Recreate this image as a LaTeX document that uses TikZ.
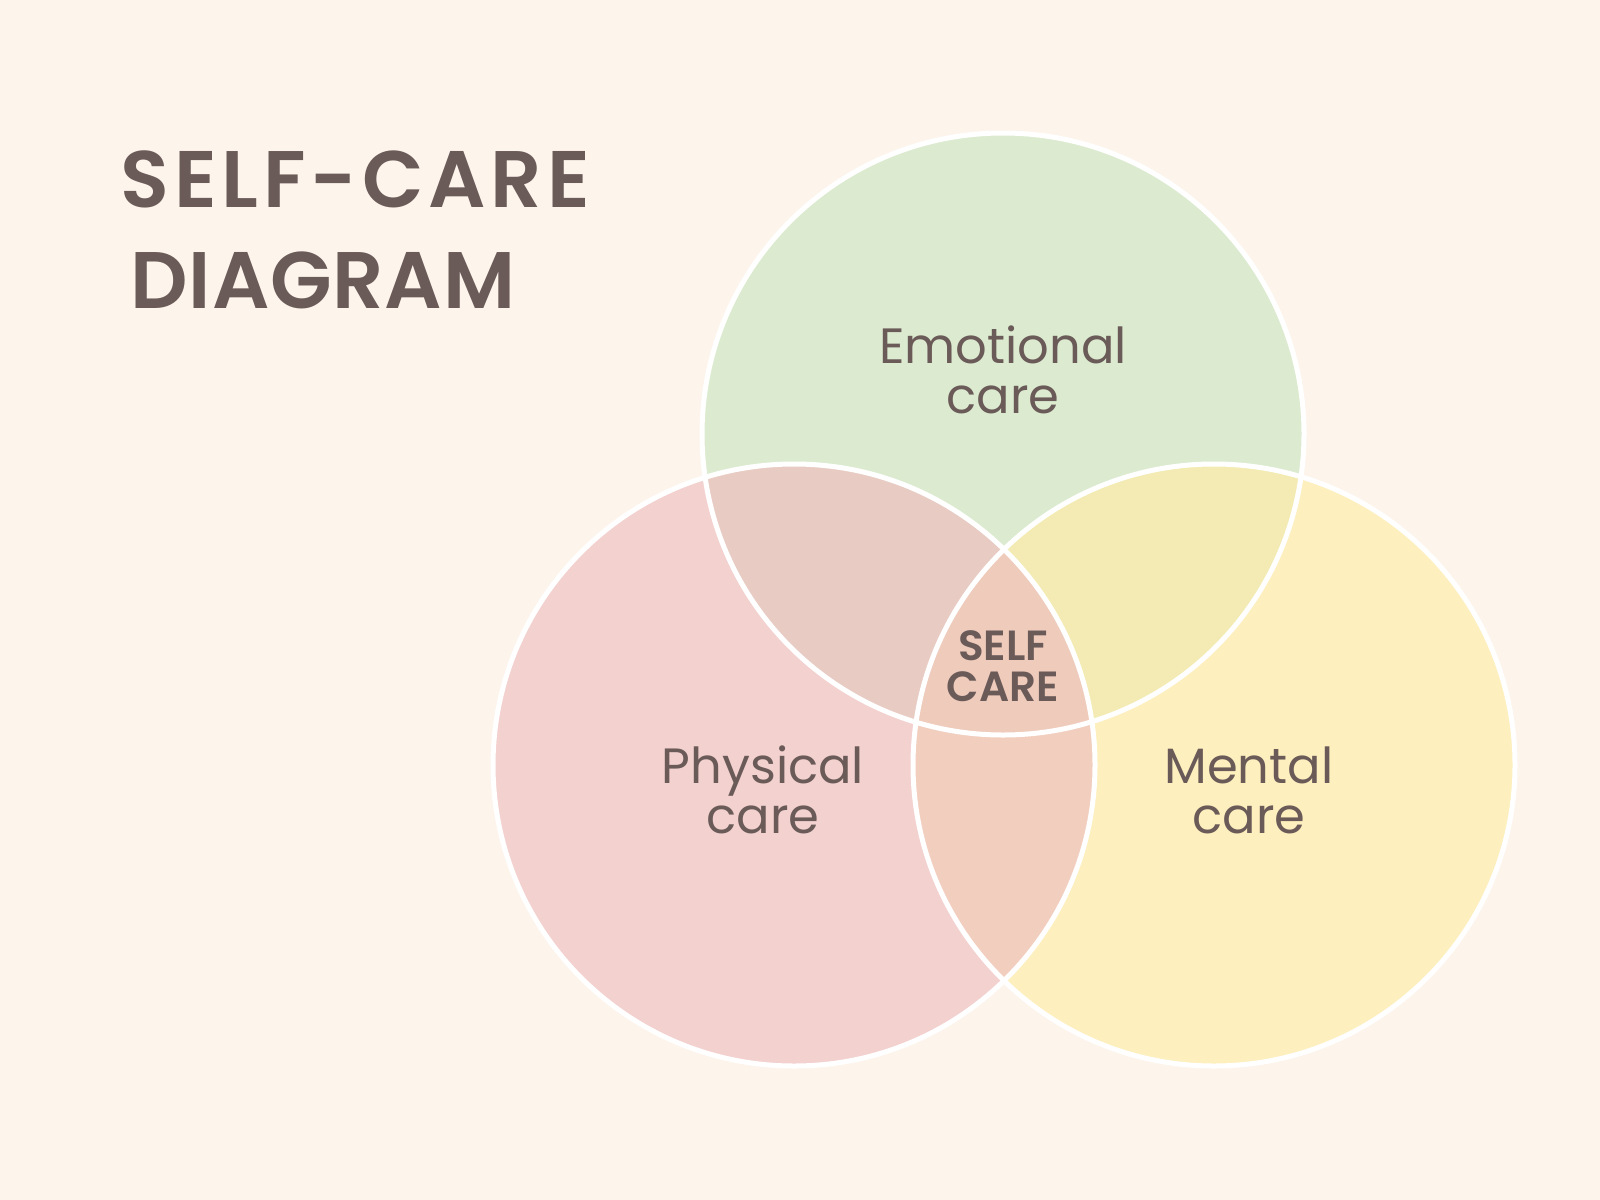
\documentclass[tikz,border=0pt]{standalone}
\usepackage{fontspec}
\setmainfont{Poppins}[BoldFont={Poppins SemiBold}]
\newfontfamily\titlefont{Poppins SemiBold}[LetterSpace=6]
\newfontfamily\titlefontb{Poppins SemiBold}[LetterSpace=1]

\definecolor{paper}{HTML}{FDF4EC}
\definecolor{ink}{HTML}{6A5A58}
\definecolor{emofill}{HTML}{DCEBD0}
\definecolor{phyfill}{HTML}{F2D1CF}
\definecolor{menfill}{HTML}{FDEFBE}
\definecolor{phyemo}{HTML}{E8CCC3}
\definecolor{emomen}{HTML}{F3EBB3}
\definecolor{phymen}{HTML}{F2CEBF}
\definecolor{corefill}{HTML}{EFCBBC}

\begin{document}
\begin{tikzpicture}[x=0.01cm,y=-0.01cm]
        \tikzstyle{every node}+=[inner sep=0pt, text=ink]
        \tikzstyle{ring}=[draw=white, line width=0.05cm]
        \tikzstyle{label}=[align=center, font=\fontsize{14.1}{14.2}\selectfont]
        \fill [paper] (0,0) rectangle (1600,1200);
        \coordinate (emo) at (1003,434);
        \coordinate (phy) at (794,765);
        \coordinate (men) at (1214,765);
        \fill [emofill] (emo) circle (301);
        \fill [phyfill] (phy) circle (301);
        \fill [menfill] (men) circle (301);
        \begin{scope}
        \clip (emo) circle (301);
        \fill [phyemo] (phy) circle (301);
        \fill [emomen] (men) circle (301);
        \end{scope}
        \begin{scope}
        \clip (phy) circle (301);
        \fill [phymen] (men) circle (301);
        \end{scope}
        \begin{scope}
        \clip (emo) circle (301);
        \clip (phy) circle (301);
        \fill [corefill] (men) circle (301);
        \end{scope}
        \draw [ring] (emo) circle (301);
        \draw [ring] (phy) circle (301);
        \draw [ring] (men) circle (301);
        \node (title1) [anchor=base west, font=\titlefont\fontsize{22.8}{28.7}\selectfont] at (120,207) {SELF-CARE};
        \node (title2) [anchor=base west, font=\titlefontb\fontsize{22.8}{28.7}\selectfont] at (130,308) {DIAGRAM};
        \node (emolabel) [label] at (1003,370) {Emotional\\care};
        \node (phylabel) [label] at (763,790) {Physical\\care};
        \node (menlabel) [label] at (1249,790) {Mental\\care};
        \node (core) [align=center, font=\bfseries\fontsize{12}{11.7}\selectfont] at (1003,666) {SELF\\CARE};
\end{tikzpicture}
\end{document}
